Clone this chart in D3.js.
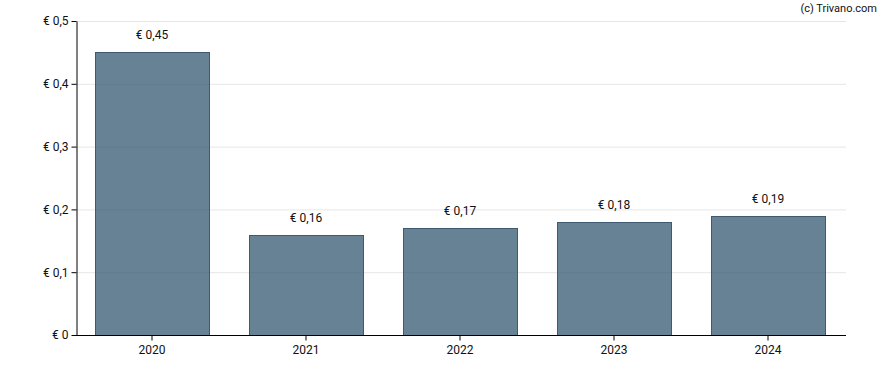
<!DOCTYPE html>
<meta charset="utf-8">
<style>
body { margin: 0; background: #fff; }
text { font-family: Roboto, sans-serif; font-size: 12px; fill: #111; }
.grid line { stroke: #e6e6e6; stroke-width: 1px; }
.bar { fill: #32566f; fill-opacity: 0.74; stroke: #3f5a70; stroke-width: 1px; }
.axis path, .axis line { stroke: #000; }
</style>
<body>
<script src="https://cdn.jsdelivr.net/npm/d3@7"></script>
<script>

var years = ["2020", "2021", "2022", "2023", "2024"]
var values = [0.45, 0.16, 0.17, 0.18, 0.19]
var yTicks = [0, 0.1, 0.2, 0.3, 0.4, 0.5]

var width = 888,
    height = 370,
    margin = {top: 21, right: 42, bottom: 35, left: 76};

var fmt = function(v) { return "€ " + String(+v.toFixed(2)).replace(".", ","); }

var svg = d3.select("body").append("svg")
    .attr("width", width)
    .attr("height", height);

var x = d3.scaleBand()
    .domain(years)
    .range([margin.left - 1, width - margin.right - 1])
    .paddingInner(0.26)
    .paddingOuter(0.13);

var y = d3.scaleLinear()
    .domain([0, 0.5])
    .range([height - margin.bottom, margin.top]);

// grid
svg.append("g").attr("class", "grid")
  .selectAll("line")
  .data(yTicks.slice(1))
  .enter().append("line")
    .attr("x1", margin.left)
    .attr("x2", width - margin.right)
    .attr("y1", d => y(d) + 0.5)
    .attr("y2", d => y(d) + 0.5);

// bars
svg.selectAll(".bar")
  .data(values)
  .enter().append("rect")
    .attr("class", "bar")
    .attr("x", (d, i) => Math.round(x(years[i])) + 0.5)
    .attr("y", d => Math.round(y(d)) + 0.5)
    .attr("width", Math.round(x.bandwidth()))
    .attr("height", d => y(0) - Math.round(y(d)));

// value labels
svg.selectAll(".lbl")
  .data(values)
  .enter().append("text")
    .attr("class", "lbl")
    .attr("text-anchor", "middle")
    .attr("x", (d, i) => x(years[i]) + x.bandwidth() / 2)
    .attr("y", d => y(d) - 13)
    .text(fmt);

// axes
svg.append("g")
    .attr("class", "axis")
    .attr("transform", "translate(0," + (height - margin.bottom + 0.5) + ")")
    .call(d3.axisBottom(x).tickSize(5).tickSizeOuter(0))
    .call(g => g.select(".domain").attr("d", "M" + margin.left + ",0H" + (width - margin.right)))
    .call(g => g.selectAll("text").attr("dy", "0.85em").style("font-size", "12px").style("font-family", "Roboto, sans-serif"));

svg.append("g")
    .attr("class", "axis")
    .attr("transform", "translate(" + (margin.left + 0.5) + ",0)")
    .call(d3.axisLeft(y).tickValues(yTicks).tickSize(5).tickSizeOuter(0).tickFormat(d => d === 0 ? "€ 0" : fmt(d)))
    .call(g => g.selectAll("text").style("font-size", "12px").style("font-family", "Roboto, sans-serif"));

svg.append("text")
    .attr("x", 877)
    .attr("y", 12)
    .attr("text-anchor", "end")
    .style("font-size", "11px")
    .text("(c) Trivano.com");
</script>
